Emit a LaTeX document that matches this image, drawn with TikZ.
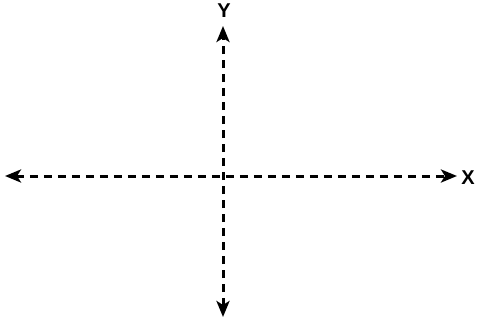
\documentclass[tikz,border=0pt]{standalone}
\usepackage{fontspec}
\setmainfont{Liberation Sans}
\usetikzlibrary{arrows.meta}
\begin{document}
\begin{tikzpicture}[x=1pt,y=-1pt,
  tip/.style={Stealth[length=16pt,width=13pt,inset=4pt]},
  axis/.style={line width=3pt, dash pattern=on 8pt off 6pt, {Stealth[length=16pt,width=13pt,inset=4pt]}-{Stealth[length=16pt,width=13pt,inset=4pt]}},
  lbl/.style={font=\fontsize{20}{20}\selectfont\bfseries, inner sep=0pt}]
\useasboundingbox (0,0) rectangle (477,322);
\coordinate (L) at (5,176);
\coordinate (R) at (457,176);
\coordinate (T) at (223,26);
\coordinate (B) at (223,317);
\draw[axis] (L) -- (R);
\draw[axis] (B) -- (T);
\node[lbl] (X) at (468,178) {X};
\node[lbl] (Y) at (224,11) {Y};
\end{tikzpicture}
\end{document}
